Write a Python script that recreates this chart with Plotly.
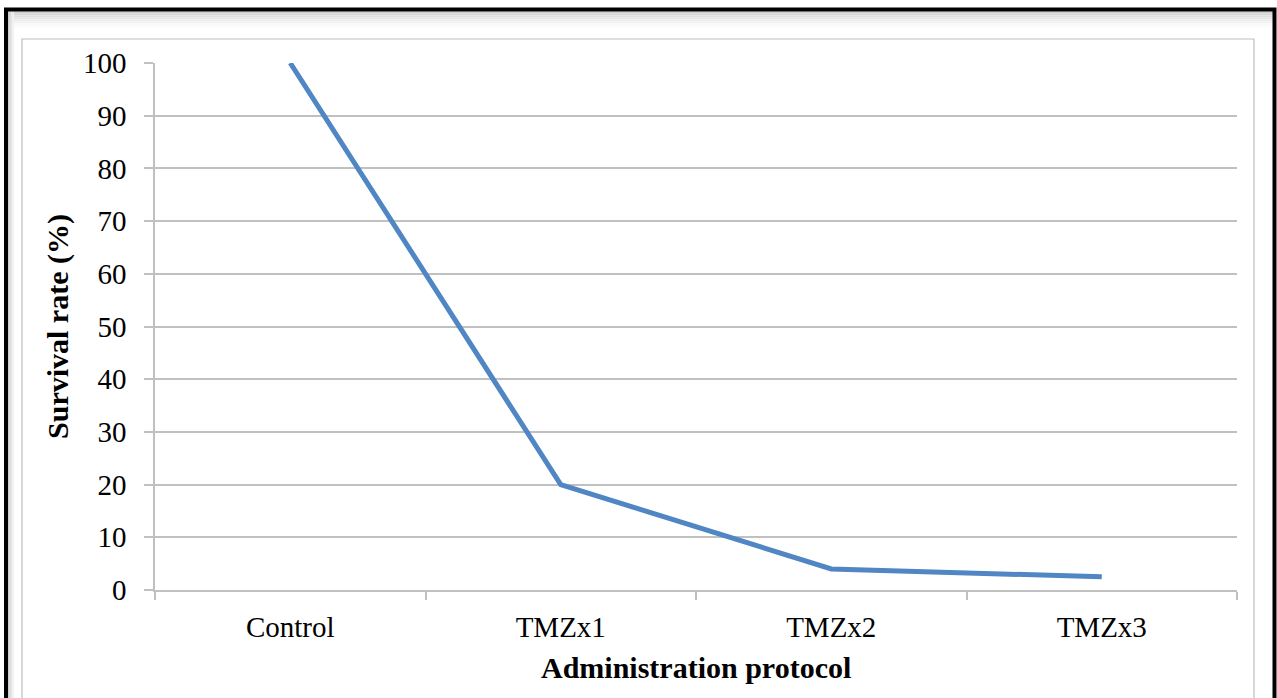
import plotly.graph_objects as go

categories = ["Control", "TMZx1", "TMZx2", "TMZx3"]
survival = [100, 20, 4, 2.5]
y_ticks = [0, 10, 20, 30, 40, 50, 60, 70, 80, 90, 100]

W, H = 1277, 698
L, R, T, B = 155, 1237, 63, 590

def px(x):
    return (x - L) / (R - L)

def py(y):
    return (B - y) / (B - T)

fig = go.Figure()
fig.add_trace(go.Scatter(
    x=categories, y=survival, mode="lines",
    line=dict(color="#4f86c3", width=5),
    hoverinfo="x+y", showlegend=False,
))

font_family = "Liberation Serif"
grid_col = "#c0c0c0"

shapes = []
# top shadow gradient
for i, c in enumerate(["#cccccc", "#d6d6d6", "#dfdfdf", "#e6e6e6", "#ededed", "#f2f2f2", "#f7f7f7", "#fbfbfb"]):
    shapes.append(dict(type="rect", xref="paper", yref="paper",
                       x0=px(8), x1=px(1273), y0=py(11.5 + i * 2), y1=py(13.5 + i * 2),
                       fillcolor=c, line=dict(width=0), layer="above"))
# left shadow gradient
for i, c in enumerate(["#cccccc", "#dcdcdc", "#e8e8e8", "#f2f2f2"]):
    shapes.append(dict(type="rect", xref="paper", yref="paper",
                       x0=px(8 + i * 1.5), x1=px(9.5 + i * 1.5), y0=py(720), y1=py(11.5),
                       fillcolor=c, line=dict(width=0), layer="above"))
# black frame
shapes.append(dict(type="rect", xref="paper", yref="paper",
                   x0=px(6), x1=px(1274.5), y0=py(730), y1=py(9.5),
                   line=dict(color="#000000", width=4), fillcolor="rgba(0,0,0,0)", layer="above"))
# inner chart box
shapes.append(dict(type="rect", xref="paper", yref="paper",
                   x0=px(22), x1=px(1254), y0=py(730), y1=py(39),
                   line=dict(color="#bdbdbd", width=1.2), fillcolor="rgba(0,0,0,0)", layer="below"))

annotations = [dict(
    text="<b>Administration protocol</b>", xref="paper", yref="paper",
    x=0.5, y=py(667), xanchor="center", yanchor="middle", showarrow=False,
    font=dict(family=font_family, size=30, color="#000"),
)]

fig.update_layout(
    width=W, height=H,
    margin=dict(l=L, r=W - R, t=T, b=H - B, pad=0),
    paper_bgcolor="white", plot_bgcolor="white",
    shapes=shapes, annotations=annotations,
    xaxis=dict(
        type="category", tickson="boundaries", ticks="outside", ticklen=8,
        tickcolor=grid_col, tickwidth=1.5,
        showline=True, linecolor=grid_col, linewidth=1.5,
        showgrid=False, zeroline=False, ticklabelstandoff=10,
        tickfont=dict(family=font_family, size=29, color="#000"),
        range=[-0.5, 3.5],
    ),
    yaxis=dict(
        range=[0, 100], tickvals=y_ticks, ticks="outside", ticklen=9,
        tickcolor=grid_col, tickwidth=1.5,
        showline=True, linecolor=grid_col, linewidth=1.5,
        showgrid=True, gridcolor=grid_col, gridwidth=1.5,
        zeroline=False, ticklabelstandoff=12,
        tickfont=dict(family=font_family, size=29, color="#000"),
        title=dict(text="<b>Survival rate (%)</b>",
                   font=dict(family=font_family, size=30, color="#000"), standoff=5),
    ),
)

fig.write_html("out.html", config={"displayModeBar": False},
               post_script="document.body.style.margin='0';document.body.style.overflow='hidden';")
